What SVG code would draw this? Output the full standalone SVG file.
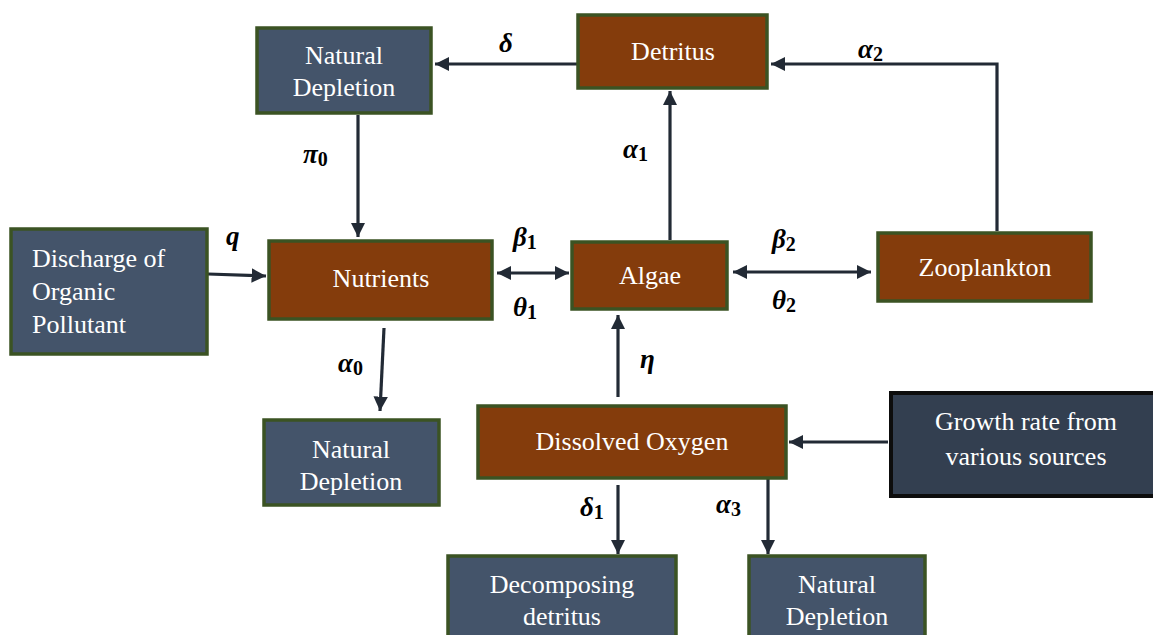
<svg xmlns="http://www.w3.org/2000/svg" width="1153" height="635" viewBox="0 0 1153 635">
<defs>
<style>
.o{fill:#843c0c;stroke:#3b5323;stroke-width:3.5}
.b{fill:#44546a;stroke:#3b5323;stroke-width:3.5}
.k{fill:#333f50;stroke:#0d0d0d;stroke-width:4}
.t{font-size:26px;fill:#ffffff;text-anchor:middle}
.tl{text-anchor:start}
.c{fill:none;stroke:#222a35;stroke-width:3.2}
.g{font-size:27px;font-weight:bold;font-style:italic;fill:#000}
.s{font-size:20px;font-style:normal}
</style>
<marker id="ah" viewBox="0 0 10 10" refX="10" refY="5" markerWidth="4.5" markerHeight="4.5" orient="auto-start-reverse" markerUnits="strokeWidth">
<path d="M0,0 L10,5 L0,10 z" fill="#222a35"/>
</marker>
</defs>
<rect width="1153" height="635" fill="#ffffff"/>

<g id="connectors">
<line class="c" x1="577" y1="64" x2="435" y2="64" marker-end="url(#ah)"/>
<polyline class="c" points="997,231 997,64 771,64" marker-end="url(#ah)"/>
<line class="c" x1="670" y1="240" x2="670" y2="91" marker-end="url(#ah)"/>
<line class="c" x1="358" y1="115" x2="358" y2="237" marker-end="url(#ah)"/>
<line class="c" x1="208" y1="274" x2="266" y2="276" marker-end="url(#ah)"/>
<line class="c" x1="497" y1="273" x2="569" y2="273" marker-start="url(#ah)" marker-end="url(#ah)"/>
<line class="c" x1="733" y1="272" x2="871" y2="272" marker-start="url(#ah)" marker-end="url(#ah)"/>
<line class="c" x1="384" y1="328" x2="380" y2="411" marker-end="url(#ah)"/>
<line class="c" x1="618" y1="397" x2="618" y2="315" marker-end="url(#ah)"/>
<line class="c" x1="888" y1="442" x2="789" y2="442" marker-end="url(#ah)"/>
<line class="c" x1="618" y1="485" x2="618" y2="554" marker-end="url(#ah)"/>
<line class="c" x1="768" y1="479" x2="768" y2="554" marker-end="url(#ah)"/>
</g>

<g id="labels" font-family="Liberation Serif, serif">
<text class="g" x="499" y="52">δ</text>
<text class="g" x="858" y="58">α<tspan class="s" dy="3">2</tspan></text>
<text class="g" x="623" y="158">α<tspan class="s" dy="3">1</tspan></text>
<text class="g" x="303" y="163">π<tspan class="s" dy="3">0</tspan></text>
<text class="g" x="226" y="245">q</text>
<text class="g" x="513" y="246">β<tspan class="s" dy="3">1</tspan></text>
<text class="g" x="513" y="316">θ<tspan class="s" dy="3">1</tspan></text>
<text class="g" x="772" y="248">β<tspan class="s" dy="3">2</tspan></text>
<text class="g" x="772" y="309">θ<tspan class="s" dy="3">2</tspan></text>
<text class="g" x="338" y="372">α<tspan class="s" dy="3">0</tspan></text>
<text class="g" x="640" y="368">η</text>
<text class="g" x="580" y="516">δ<tspan class="s" dy="3">1</tspan></text>
<text class="g" x="716" y="513">α<tspan class="s" dy="3">3</tspan></text>
</g>

<g id="nodes" font-family="Liberation Serif, serif">
<g id="natural-depletion-top">
<rect class="b" x="257" y="28" width="174" height="85"/>
<text class="t" x="344" y="64">Natural</text>
<text class="t" x="344" y="96">Depletion</text>
</g>
<g id="detritus">
<rect class="o" x="578" y="15" width="189" height="73"/>
<text class="t" x="673" y="60">Detritus</text>
</g>
<g id="discharge">
<rect class="b" x="11" y="229" width="196" height="125"/>
<text class="t tl" x="32" y="267">Discharge of</text>
<text class="t tl" x="32" y="300">Organic</text>
<text class="t tl" x="32" y="333">Pollutant</text>
</g>
<g id="nutrients">
<rect class="o" x="269" y="241" width="223" height="78"/>
<text class="t" x="381" y="287">Nutrients</text>
</g>
<g id="algae">
<rect class="o" x="572" y="242" width="155" height="67"/>
<text class="t" x="650" y="284">Algae</text>
</g>
<g id="zooplankton">
<rect class="o" x="878" y="233" width="213" height="68"/>
<text class="t" x="985" y="276">Zooplankton</text>
</g>
<g id="natural-depletion-mid">
<rect class="b" x="264" y="420" width="175" height="85"/>
<text class="t" x="351" y="458">Natural</text>
<text class="t" x="351" y="490">Depletion</text>
</g>
<g id="dissolved-oxygen">
<rect class="o" x="478" y="406" width="308" height="72"/>
<text class="t" x="632" y="450">Dissolved Oxygen</text>
</g>
<g id="growth-rate">
<rect class="k" x="891" y="393" width="264" height="103"/>
<text class="t" x="1026" y="430">Growth rate from</text>
<text class="t" x="1026" y="465">various sources</text>
</g>
<g id="decomposing-detritus">
<rect class="b" x="448" y="556" width="228" height="85"/>
<text class="t" x="562" y="593">Decomposing</text>
<text class="t" x="562" y="625">detritus</text>
</g>
<g id="natural-depletion-bottom">
<rect class="b" x="749" y="556" width="176" height="85"/>
<text class="t" x="837" y="593">Natural</text>
<text class="t" x="837" y="625">Depletion</text>
</g>
</g>
</svg>
